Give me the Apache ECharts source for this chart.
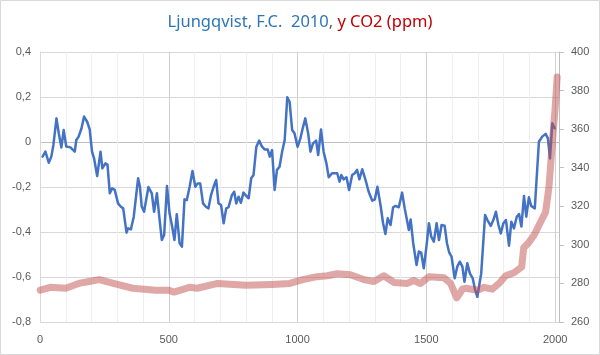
<!DOCTYPE html>
<html>
<head>
<meta charset="utf-8">
<script src="https://cdn.jsdelivr.net/npm/echarts@6/dist/echarts.min.js"></script>
<style>
html,body{margin:0;padding:0;background:#fff;}
#chart{width:600px;height:355px;}
</style>
</head>
<body>
<div id="chart"></div>
<script>
// Ljungqvist 2010 temperature anomaly (left axis)
const tempYears = [10,21,34,44,52,64,73,83,92,102,118,124,135,141,150,161,171,183,193,202,210,222,235,242,254,262,271,280,290,303,314,323,336,342,353,364,381,388,395,404,421,434,443,454,463,473,482,493,503,513,522,531,542,551,561,570,581,592,603,612,622,633,644,654,664,674,684,693,703,713,723,732,745,754,762,771,780,790,801,810,820,829,840,851,862,872,884,892,901,911,920,930,940,950,960,969,979,988,1000,1011,1020,1030,1041,1050,1060,1072,1080,1091,1101,1112,1121,1134,1154,1163,1170,1179,1190,1200,1212,1222,1231,1240,1251,1264,1276,1290,1300,1310,1322,1332,1341,1350,1361,1371,1380,1393,1406,1416,1426,1432,1439,1449,1462,1471,1480,1490,1501,1510,1519,1529,1540,1549,1559,1571,1580,1589,1598,1610,1620,1630,1640,1648,1659,1669,1680,1689,1698,1704,1713,1728,1737,1750,1760,1770,1780,1789,1799,1809,1821,1830,1840,1851,1860,1869,1879,1888,1898,1907,1921,1937,1950,1963,1972,1980,1989,1998];
const tempValues = [-0.065,-0.043,-0.092,-0.065,-0.013,0.105,0.038,-0.024,0.053,-0.02,-0.024,-0.024,-0.043,0.009,0.024,0.06,0.113,0.09,0.056,-0.043,-0.073,-0.151,-0.043,-0.117,-0.095,-0.1,-0.228,-0.206,-0.213,-0.273,-0.288,-0.295,-0.403,-0.384,-0.388,-0.332,-0.161,-0.199,-0.287,-0.31,-0.2,-0.228,-0.31,-0.228,-0.332,-0.436,-0.413,-0.196,-0.317,-0.376,-0.436,-0.321,-0.45,-0.465,-0.255,-0.258,-0.199,-0.129,-0.199,-0.184,-0.184,-0.273,-0.288,-0.295,-0.236,-0.199,-0.169,-0.273,-0.28,-0.361,-0.295,-0.29,-0.236,-0.221,-0.273,-0.243,-0.27,-0.225,-0.24,-0.25,-0.161,-0.147,-0.021,0.006,-0.021,-0.033,-0.033,-0.065,-0.036,-0.213,-0.124,-0.11,-0.043,0.009,0.199,0.179,0.053,0.039,-0.021,0.016,0.061,0.105,0.039,-0.043,-0.006,0.006,-0.058,0.056,-0.043,-0.095,-0.157,-0.139,-0.139,-0.176,-0.147,-0.166,-0.157,-0.213,-0.147,-0.139,-0.124,-0.166,-0.121,-0.169,-0.221,-0.261,-0.255,-0.199,-0.28,-0.361,-0.409,-0.339,-0.369,-0.29,-0.284,-0.29,-0.225,-0.295,-0.354,-0.391,-0.344,-0.45,-0.547,-0.487,-0.492,-0.561,-0.458,-0.361,-0.421,-0.443,-0.361,-0.436,-0.369,-0.372,-0.45,-0.492,-0.51,-0.606,-0.554,-0.532,-0.554,-0.621,-0.539,-0.584,-0.606,-0.655,-0.688,-0.69,-0.584,-0.324,-0.347,-0.373,-0.347,-0.31,-0.369,-0.406,-0.361,-0.347,-0.461,-0.354,-0.384,-0.332,-0.32,-0.376,-0.24,-0.332,-0.246,-0.284,-0.295,0.001,0.024,0.036,0.016,-0.073,0.083,0.061];

// CO2 (ppm, right axis)
const co2Years = [1,40,100,150,190,230,285,360,450,500,520,580,610,690,800,900,970,1020,1076,1115,1154,1205,1257,1296,1335,1375,1426,1451,1477,1510,1568,1594,1618,1640,1652,1700,1724,1756,1782,1808,1840,1870,1878,1895,1918,1944,1963,1976,1985,1992,2000,2008];
const co2Values = [276.5,278,277.5,280,281,282,280,277.5,276.5,276.5,275.5,278,277.5,280,279,279.5,280,282,283.5,284,285,284.5,282,281,284,280.5,280,281.5,280,283.5,283,280,272.5,277,277.5,276.5,278,277,280,284,285.5,288.5,298.5,300.8,305,312,317,330,346,358,371,387];

// Axis settings
const leftTicks = {min:-0.8, max:0.4, step:0.2};
const rightTicks = {min:260, max:400, step:20};
const xTicks = {min:0, max:2015, step:100, labelStep:500};

const titleParts = ['Ljungqvist, F.C.  2010', ', ', 'y CO2 (ppm)'];

const tempData = tempYears.map((y,i)=>[y,tempValues[i]]);
const co2Data = co2Years.map((y,i)=>[y,co2Values[i]]);

const chart = echarts.init(document.getElementById('chart'), null, {renderer:'canvas'});
const labelColor = '#595959';
const font = 'Liberation Sans';
const tFont = 'Noto Sans';
const tSize = 16.5;

chart.setOption({
  animation:false,
  backgroundColor:'#fff',
  title:{
    left:'center', top:9,
    text:'{b|'+titleParts[0]+'}{g|'+titleParts[1]+'}{r|'+titleParts[2]+'}',
    textStyle:{
      fontFamily:tFont, fontSize:tSize, fontWeight:'normal',
      rich:{
        b:{color:'#2E75B6', fontFamily:tFont, fontSize:tSize},
        g:{color:'#595959', fontFamily:tFont, fontSize:tSize},
        r:{color:'#C00000', fontFamily:tFont, fontSize:tSize}
      }
    }
  },
  graphic:[{
    type:'rect', silent:true, z:100,
    shape:{x:0.5,y:0.5,width:599,height:354},
    style:{fill:'none', stroke:'#D9D9D9', lineWidth:1}
  }],
  grid:{left:40, right:41, top:52, bottom:33, containLabel:false},
  xAxis:{
    type:'value', min:xTicks.min, max:xTicks.max, interval:xTicks.step,
    axisLine:{show:false}, axisTick:{show:false},
    axisLabel:{
      color:labelColor, fontFamily:font, fontSize:11, margin:12,
      formatter:v=> (v % xTicks.labelStep === 0) ? String(v) : ''
    },
    splitLine:{show:true, lineStyle:{width:1, color:['#D0D0D0','#EFEFEF','#EFEFEF','#EFEFEF','#EFEFEF']}}
  },
  yAxis:[{
    type:'value', min:leftTicks.min, max:leftTicks.max, interval:leftTicks.step,
    axisLine:{show:true, lineStyle:{color:'#D9D9D9'}}, axisTick:{show:false},
    axisLabel:{
      color:labelColor, fontFamily:font, fontSize:11, margin:9,
      formatter:v=>{const r=Math.round(v*10)/10; return r===0?'0':String(r).replace('.',',');}
    },
    splitLine:{show:true, lineStyle:{width:1, color:['#D9D9D9','#D9D9D9','#D9D9D9','#D9D9D9','#BFBFBF','#D9D9D9','#D9D9D9']}}
  },{
    type:'value', position:'right', min:rightTicks.min, max:rightTicks.max, interval:rightTicks.step,
    axisLine:{show:true, lineStyle:{color:'#BFBFBF'}},
    axisTick:{show:true, length:5, inside:false, lineStyle:{color:'#BFBFBF'}},
    axisLabel:{color:labelColor, fontFamily:font, fontSize:11, margin:12},
    splitLine:{show:false}
  }],
  series:[{
    type:'line', yAxisIndex:0, data:tempData, showSymbol:false, symbol:'none',
    lineStyle:{color:'#4472C4', width:2.5, join:'round', cap:'round'},
    emphasis:{disabled:true}
  },{
    type:'line', yAxisIndex:1, data:co2Data, showSymbol:false, symbol:'none',
    lineStyle:{color:'#C0504D', width:7, opacity:0.5, join:'round', cap:'round'},
    emphasis:{disabled:true}
  }]
});
</script>
</body>
</html>
